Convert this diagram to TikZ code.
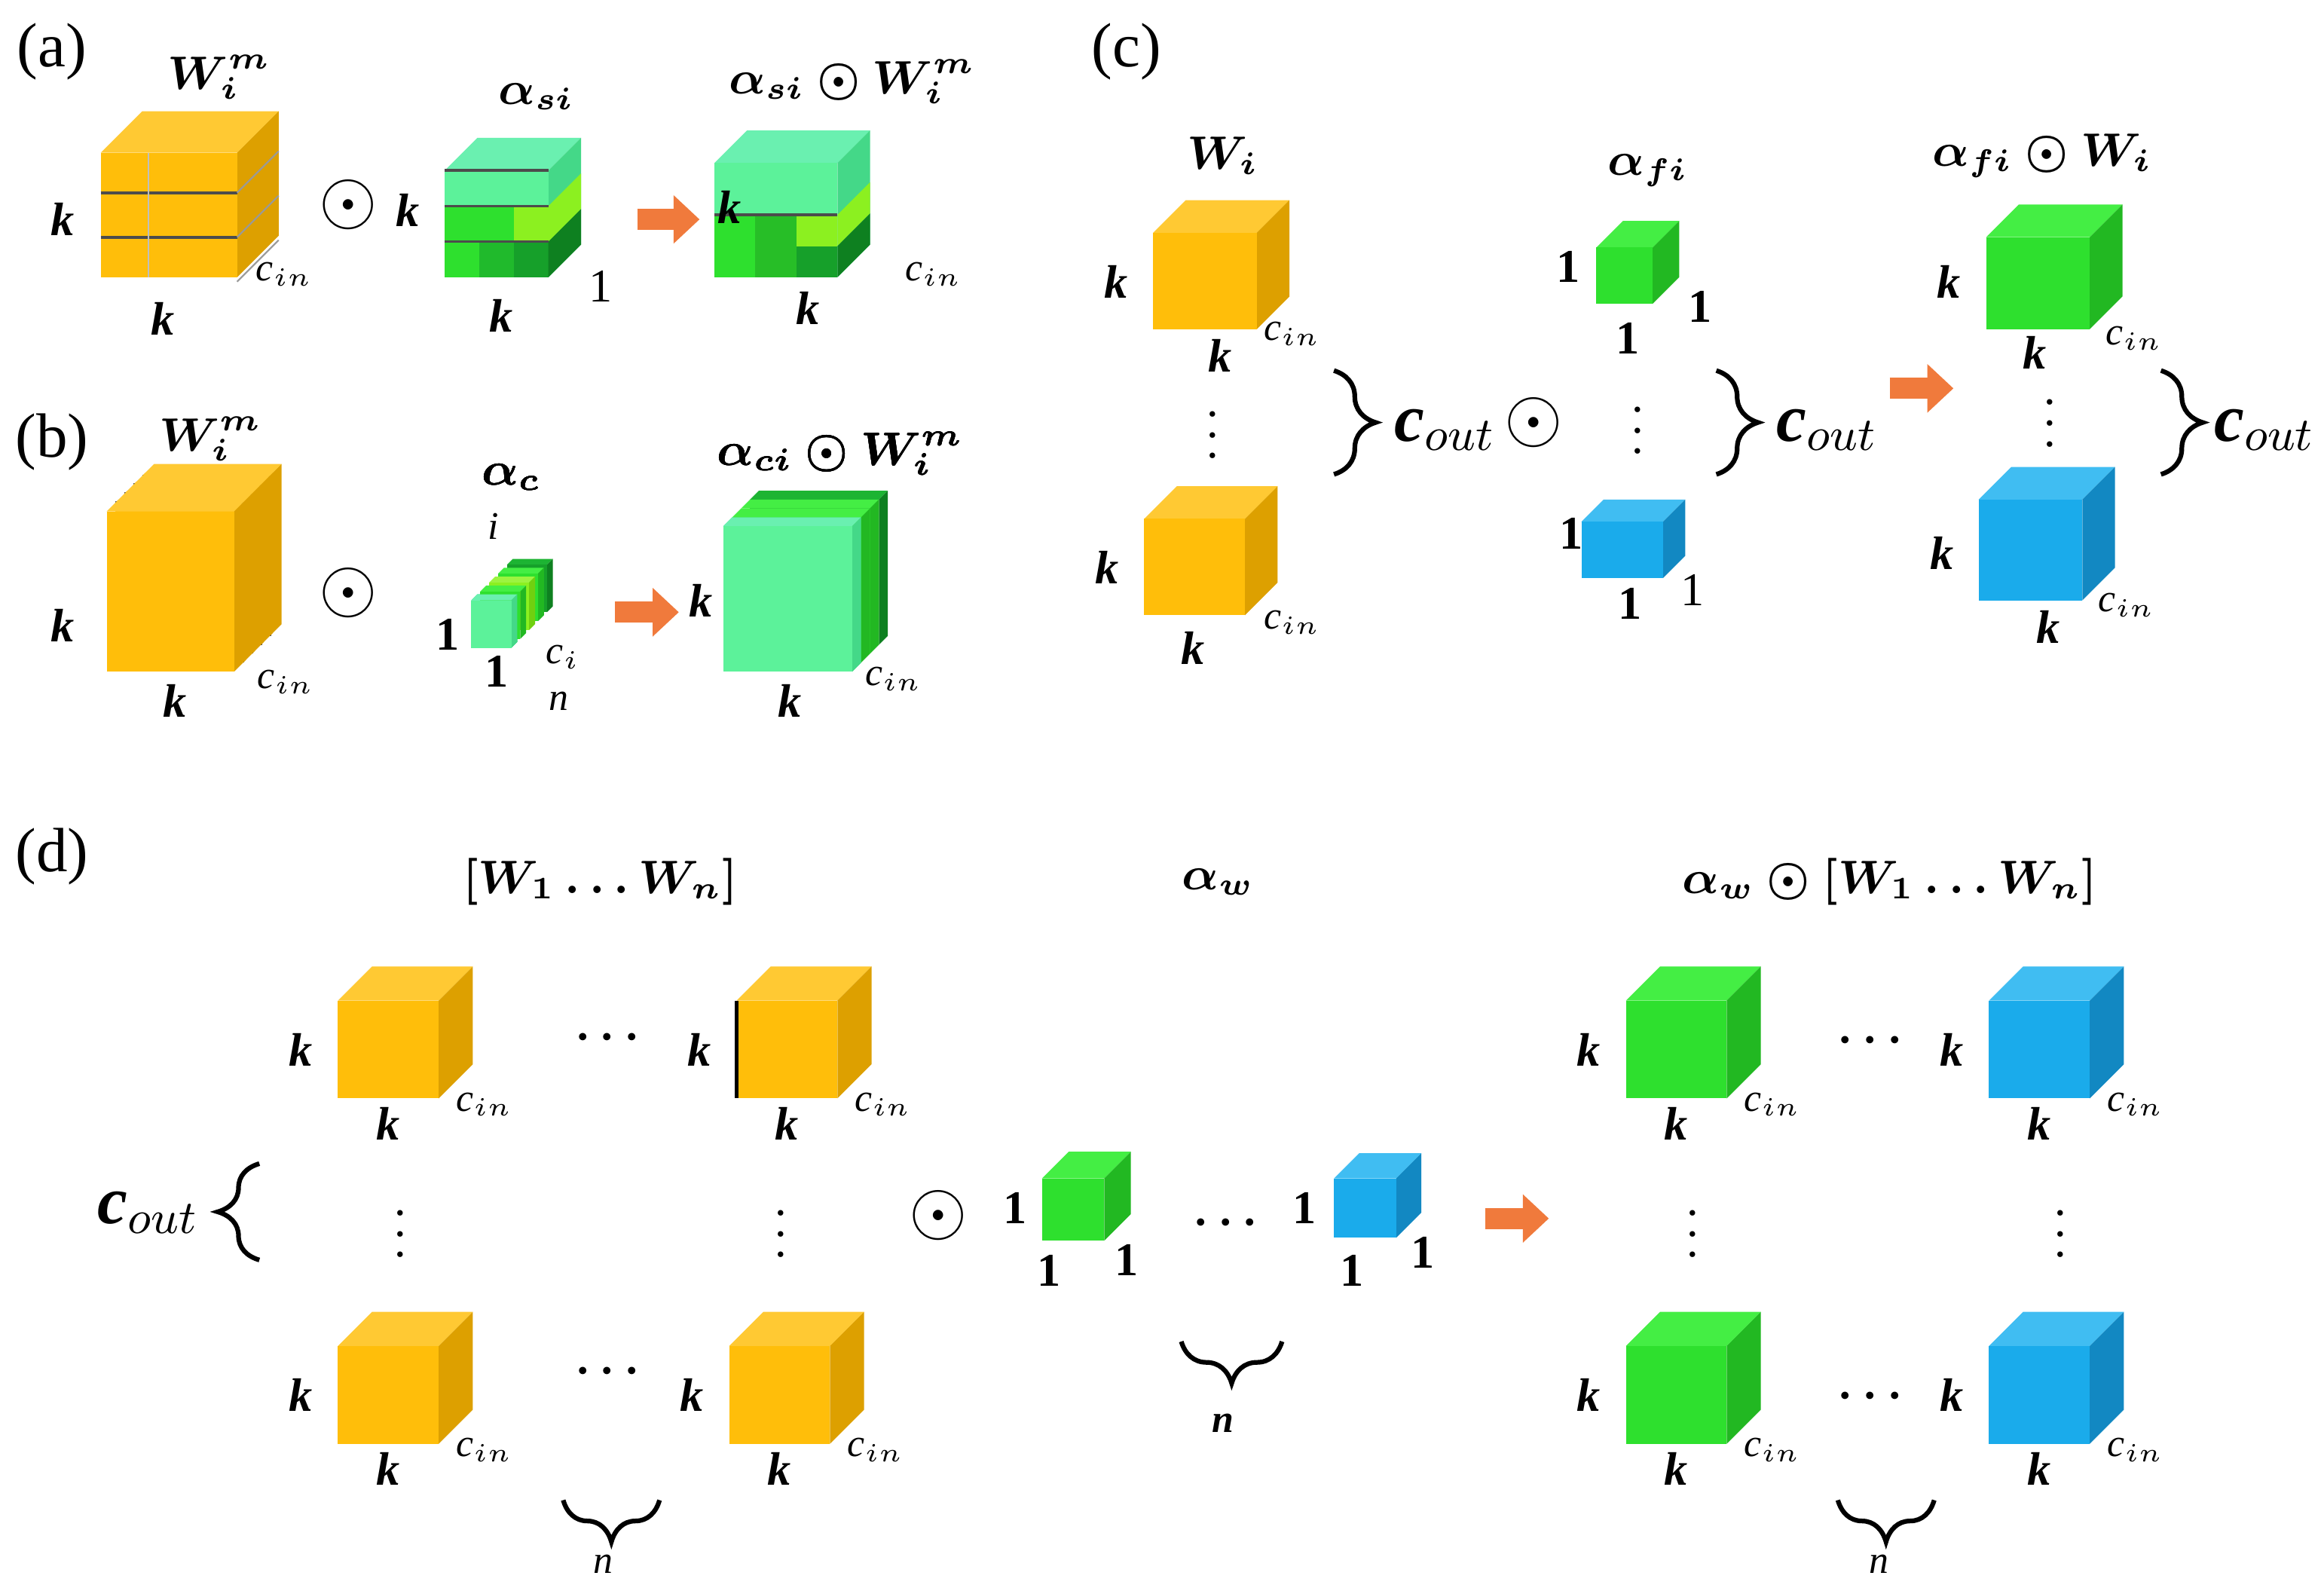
\documentclass[tikz,border=0pt]{standalone}
\usepackage{amsmath}
\usepackage{fontspec}
\setmainfont{Liberation Serif}
\usetikzlibrary{decorations.pathreplacing,arrows.meta}

\definecolor{orF}{HTML}{FFBE0A}
\definecolor{orT}{HTML}{FFC933}
\definecolor{orS}{HTML}{DDA000}
\definecolor{grF}{HTML}{2EE02E}
\definecolor{grT}{HTML}{44EE44}
\definecolor{grS}{HTML}{22B822}
\definecolor{blF}{HTML}{1AABEB}
\definecolor{blT}{HTML}{40BDF2}
\definecolor{blS}{HTML}{1288C2}
\definecolor{tlF}{HTML}{5CF29A}
\definecolor{tlT}{HTML}{6AF0B0}
\definecolor{tlS}{HTML}{44D888}
\definecolor{dgF}{HTML}{16A02A}
\definecolor{dgT}{HTML}{1DB433}
\definecolor{dgS}{HTML}{0E8020}
\definecolor{lmF}{HTML}{8CF020}
\definecolor{lmT}{HTML}{9CF440}
\definecolor{lmS}{HTML}{70D010}
\definecolor{ArrowOrange}{HTML}{F07A3C}

\tikzset{
    lab/.style={font=\bfseries\itshape\fontsize{9}{9}\selectfont, inner sep=0pt},
    sml/.style={font=\itshape\fontsize{7.5}{7.5}\selectfont, inner sep=0pt},
    one/.style={font=\bfseries\fontsize{9}{9}\selectfont, inner sep=0pt},
    ttl/.style={font=\fontsize{12}{12}\selectfont, inner sep=0pt},
    big/.style={font=\fontsize{9}{9}\selectfont, inner sep=0pt},
    cout/.style={font=\bfseries\itshape\fontsize{13}{13}\selectfont, inner sep=0pt},
    odot/.style={font=\fontsize{14}{14}\selectfont, inner sep=0pt},
    brc/.style={decorate, decoration={brace, amplitude=#1}, line width=0.9pt},
    brc/.default=6,
    fwd/.style={-{Triangle[length=5pt,width=9pt]}, ArrowOrange, line width=4pt},
}

% cube: name, x, y (front top-left), width, height, depth, colour prefix
\newcommand{\cube}[7]{%
    \pgfmathsetmacro{\cx}{#2}\pgfmathsetmacro{\cy}{#3}%
    \pgfmathsetmacro{\cw}{#4}\pgfmathsetmacro{\ch}{#5}\pgfmathsetmacro{\cd}{#6}%
    \fill[#7T] (\cx,\cy) -- ++(\cd,-\cd) -- ++(\cw,0) -- ++(-\cd,\cd) -- cycle;
    \fill[#7S] (\cx+\cw,\cy) -- ++(\cd,-\cd) -- ++(0,\ch) -- ++(-\cd,\cd) -- cycle;
    \fill[#7F] (\cx,\cy) rectangle ++(\cw,\ch);
    \coordinate (#1) at (\cx+\cw/2,\cy+\ch/2);
}

\begin{document}
\begin{tikzpicture}[x=0.01cm, y=-0.01cm]
    \useasboundingbox (0,0) rectangle (1568,1075);
    \fill[white] (0,0) rectangle (1568,1075);

    % ---------- (a)
    \node[ttl] (ta) at (35,35) {(a)};
    \cube{wa}{68}{103}{92}{84}{28}{or}
    \foreach \yy in {130,160} \draw[black!70, line width=0.6pt] (68,\yy) -- (160,\yy);
    \foreach \s in {0,1,2} \draw[black!40, line width=0.3pt] (160,130+30*\s) -- ++(28,-28);
    \draw[black!25, line width=0.3pt] (100,103) -- (100,187);
    \node[big] (la1) at (148,52) {$\boldsymbol{W_i^m}$};
    \node[lab] at (42,148) {k};
    \node[lab] at (110,215) {k};
    \node[sml] at (192,185) {c$_{in}$};
    \node[odot] (oa) at (235,138) {$\odot$};

    \cube{sa}{300}{115}{70}{72}{22}{tl}
    \foreach \c [count=\i from 0] in {tlF,tlF,tlF,grF,grF,lmF,grF,dgF!60!grF,dgF}
        \fill[\c] ({300+70/3*mod(\i,3)},{115+24*floor(\i/3)}) rectangle ++(70/3,24);
    \fill[lmF] (370,139) -- ++(22,-22) -- ++(0,24) -- ++(-22,22) -- cycle;
    \fill[dgS] (370,163) -- ++(22,-22) -- ++(0,24) -- ++(-22,22) -- cycle;
    \foreach \yy in {115,139,163} \draw[black!70, line width=0.5pt] (300,\yy) -- (370,\yy);
    \node[big] at (362,65) {$\boldsymbol{\alpha_{si}}$};
    \node[lab] at (275,142) {k};
    \node[lab] at (338,213) {k};
    \node[one] at (405,193) {\mdseries 1};

    \cube{ra}{482}{110}{83}{77}{22}{tl}
    \foreach \c [count=\i from 0] in {grF,grF!85!black,lmF}
        \fill[\c] ({482+83/3*\i},145) rectangle ++(83/3,21);
    \foreach \c [count=\i from 0] in {grF,grF!85!black,dgF}
        \fill[\c] ({482+83/3*\i},166) rectangle ++(83/3,21);
    \fill[lmF] (565,145) -- ++(22,-22) -- ++(0,21) -- ++(-22,22) -- cycle;
    \fill[dgS] (565,166) -- ++(22,-22) -- ++(0,21) -- ++(-22,22) -- cycle;
    \draw[black!70, line width=0.5pt] (482,145) -- (565,145);
    \node[big] at (575,55) {$\boldsymbol{\alpha_{si}\odot W_i^m}$};
    \node[lab] at (492,140) {k};
    \node[lab] at (545,208) {k};
    \node[sml] at (630,185) {c$_{in}$};
    \coordinate (pa) at (430,148);
    \coordinate (qa) at (472,148);
    \draw[fwd] (pa) -- (qa);

    % ---------- (b)
    \node[ttl] (tb) at (35,298) {(b)};
    \foreach \l in {4,3,2,1} {
        \cube{wb\l}{72+6*\l}{345-6*\l}{86}{108}{8}{or}
        \draw[black!70, line width=0.5pt] (72+6*\l+86,345-6*\l) -- ++(0,108) (72+6*\l,345-6*\l) -- ++(86,0);
    }
    \cube{wb}{72}{345}{86}{108}{8}{or}
    \node[big] at (142,296) {$\boldsymbol{W_i^m}$};
    \node[lab] at (42,422) {k};
    \node[lab] at (118,473) {k};
    \node[sml] at (193,460) {c$_{in}$};
    \node[odot] (ob) at (235,400) {$\odot$};

    \foreach \l/\c in {4/dg,3/gr,2/lm,1/gr} \cube{sb\l}{318+6*\l}{405-6*\l}{27}{32}{4}{\c}
    \cube{sb}{318}{405}{27}{32}{4}{tl}
    \node[big] at (345,322) {$\boldsymbol{\alpha_c}$};
    \node[sml] at (333,355) {i};
    \node[one] at (302,428) {1};
    \node[one] at (335,453) {1};
    \node[sml] at (380,443) {c$_i$};
    \node[sml] at (377,473) {n};

    \foreach \l/\c in {3/dg,2/gr,1/gr} \cube{rb\l}{488+6*\l}{355-6*\l}{87}{98}{6}{\c}
    \cube{rb}{488}{355}{87}{98}{6}{tl}
    \node[big] at (567,306) {$\boldsymbol{\alpha_{ci}\odot W_i^m}$};
    \node[lab] at (473,405) {k};
    \node[lab] at (533,473) {k};
    \node[sml] at (603,458) {c$_{in}$};
    \coordinate (pb) at (415,413);
    \coordinate (qb) at (458,413);
    \draw[fwd] (pb) -- (qb);

    % ---------- (c)
    \node[ttl] (tc) at (760,35) {(c)};
    \cube{wc1}{778}{157}{70}{65}{22}{or}
    \cube{wc2}{772}{350}{68}{65}{22}{or}
    \node[big] at (825,105) {$\boldsymbol{W_i}$};
    \node[lab] at (753,190) {k};
    \node[lab] at (823,240) {k};
    \node[sml] at (872,225) {c$_{in}$};
    \node[lab] at (747,383) {k};
    \node[lab] at (805,437) {k};
    \node[sml] at (872,420) {c$_{in}$};
    \node[big] at (818,283) {$\vdots$};
    \draw[brc=8] (900,250) -- (900,320);
    \node[cout] at (975,290) {c$_{out}$};
    \node[odot] (oc) at (1035,285) {$\odot$};

    \cube{fc1}{1077}{167}{38}{38}{18}{gr}
    \cube{fc2}{1067}{352}{55}{38}{15}{bl}
    \node[big] at (1112,115) {$\boldsymbol{\alpha_{fi}}$};
    \node[one] at (1058,180) {1};
    \node[one] at (1098,228) {1};
    \node[one] at (1147,207) {1};
    \node[one] at (1060,360) {1};
    \node[one] at (1100,407) {1};
    \node[one] at (1142,398) {\mdseries 1};
    \node[big] at (1105,280) {$\vdots$};
    \draw[brc=8] (1158,250) -- (1158,320);
    \node[cout] at (1233,290) {c$_{out}$};

    \cube{rc1}{1340}{160}{70}{62}{22}{gr}
    \cube{rc2}{1335}{337}{70}{68}{22}{bl}
    \node[big] at (1378,105) {$\boldsymbol{\alpha_{fi}\odot W_i}$};
    \node[lab] at (1315,190) {k};
    \node[lab] at (1373,238) {k};
    \node[sml] at (1440,228) {c$_{in}$};
    \node[lab] at (1310,373) {k};
    \node[lab] at (1382,423) {k};
    \node[sml] at (1435,408) {c$_{in}$};
    \node[big] at (1383,275) {$\vdots$};
    \draw[brc=8] (1458,250) -- (1458,320);
    \node[cout] at (1528,290) {c$_{out}$};
    \coordinate (pc) at (1275,262);
    \coordinate (qc) at (1318,262);
    \draw[fwd] (pc) -- (qc);

    % ---------- (d)
    \node[ttl] (td) at (35,578) {(d)};
    \node[big] at (405,595) {$\boldsymbol{[W_1 \ldots W_n]}$};
    \node[big] at (822,595) {$\boldsymbol{\alpha_w}$};
    \node[big] at (1275,595) {$\boldsymbol{\alpha_w\odot[W_1 \ldots W_n]}$};

    \foreach \nm/\x/\y/\c in {d11/228/675/or, d12/497/675/or, d21/228/908/or, d22/492/908/or,
                               e11/1097/675/gr, e12/1342/675/bl, e21/1097/908/gr, e22/1342/908/bl} {
        \cube{\nm}{\x}{\y}{68}{66}{23}{\c}
        \node[lab] at (\x-25,\y+33) {k};
        \node[lab] at (\x+34,\y+83) {k};
        \node[sml] at (\x+99,\y+70) {c$_{in}$};
    }
    \draw[black, line width=0.7pt] (497,675) -- (497,741);
    \foreach \x/\y in {413/700, 413/925, 1265/702, 1265/942, 830/825}
        \node[big] at (\x,\y) {$\boldsymbol{\cdots}$};
    \foreach \x in {270,527,1142,1390}
        \node[big] at (\x,822) {$\vdots$};
    \node[cout] at (100,818) {c$_{out}$};
    \draw[brc=8] (175,850) -- (175,785);
    \node[odot] (od) at (633,820) {$\odot$};

    \cube{ad1}{703}{795}{42}{42}{18}{gr}
    \cube{ad2}{900}{795}{42}{40}{17}{bl}
    \node[one] at (685,815) {1};
    \node[one] at (708,857) {1};
    \node[one] at (760,850) {1};
    \node[one] at (880,815) {1};
    \node[one] at (912,857) {1};
    \node[one] at (960,845) {1};

    \draw[brc=8] (445,1012) -- (380,1012);
    \node[sml] at (407,1055) {n};
    \draw[brc=8] (865,905) -- (797,905);
    \node[sml] at (825,960) {\bfseries n};
    \draw[brc=8] (1305,1012) -- (1240,1012);
    \node[sml] at (1268,1055) {n};
    \coordinate (pd) at (1002,822);
    \coordinate (qd) at (1045,822);
    \draw[fwd] (pd) -- (qd);
\end{tikzpicture}
\end{document}
